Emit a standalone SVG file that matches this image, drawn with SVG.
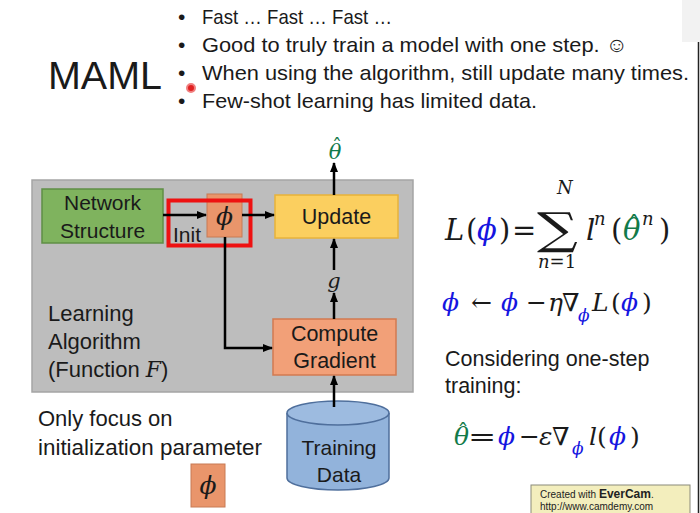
<svg xmlns="http://www.w3.org/2000/svg" width="700" height="513" viewBox="0 0 700 513">
<defs>
<marker id="ah" viewBox="0 0 10 10" refX="9" refY="5" markerWidth="10" markerHeight="10" markerUnits="userSpaceOnUse" orient="auto">
<path d="M0,1 L10,5 L0,9 Z" fill="#000"/>
</marker>
</defs>
<style>
.t{font-family:"Liberation Sans","Open Sans",sans-serif;fill:#1a1a1a}
.m{font-family:"DejaVu Serif","Liberation Serif",serif;font-style:italic;fill:#1a1a1a}
.u{font-style:normal}
.b{fill:#1515e0}
.g{fill:#127a4a}
.ln{stroke:#000;stroke-width:2.5;fill:none}
</style>
<rect width="700" height="513" fill="#ffffff"/>
<line x1="698.5" y1="42" x2="698.5" y2="513" stroke="#222" stroke-width="1.5"/>
<rect x="682" y="0" width="18" height="42" fill="#f2f2f2"/>

<g id="title">
<text class="t" x="48" y="89" font-size="39" textLength="114" lengthAdjust="spacingAndGlyphs">MAML</text>
</g>
<g id="bullets" class="t" font-size="21">
<text x="178" y="24">•</text><text x="202" y="24" textLength="190" lengthAdjust="spacingAndGlyphs">Fast … Fast … Fast …</text>
<text x="178" y="52">•</text><text x="202" y="52" textLength="426" lengthAdjust="spacingAndGlyphs">Good to truly train a model with one step. ☺</text>
<text x="178" y="80">•</text><text x="202" y="80" textLength="487" lengthAdjust="spacingAndGlyphs">When using the algorithm, still update many times.</text>
<text x="178" y="108">•</text><text x="202" y="108" textLength="335" lengthAdjust="spacingAndGlyphs">Few-shot learning has limited data.</text>
</g>
<circle cx="191" cy="88" r="4" fill="#e02020" stroke="#f08080" stroke-width="2"/>

<g id="learning-algorithm">
<rect x="32" y="180" width="381" height="212" fill="#bdbdbd" stroke="#a5a5a5" stroke-width="1.5"/>
<text class="t" font-size="22"><tspan x="48" y="321">Learning</tspan><tspan x="48" y="349">Algorithm</tspan><tspan x="48" y="377">(Function <tspan class="m">F</tspan>)</tspan></text>
</g>

<g id="network-structure">
<rect x="42" y="189" width="121" height="54" fill="#7fb35e" stroke="#5f8f45" stroke-width="1.5"/>
<text class="t" font-size="21" text-anchor="middle"><tspan x="102.5" y="210">Network</tspan><tspan x="102.5" y="238">Structure</tspan></text>
</g>

<g id="phi">
<rect x="207" y="194" width="35" height="43" fill="#e9956b" stroke="#c87a55" stroke-width="1"/>
<text class="m" x="224.5" y="225" font-size="25" text-anchor="middle">ϕ</text>
</g>

<g id="init">
<rect x="168.5" y="200.5" width="82" height="45" fill="none" stroke="#ee1111" stroke-width="4"/>
<text class="t" x="173" y="242" font-size="21">Init</text>
</g>

<g id="update">
<rect x="275" y="195" width="123" height="43" fill="#fbcf5f" stroke="#e8b33a" stroke-width="1.5"/>
<text class="t" x="336.5" y="224" font-size="21.5" text-anchor="middle">Update</text>
</g>

<g id="compute-gradient">
<rect x="273" y="319" width="123" height="56" fill="#f2a078" stroke="#d27a50" stroke-width="1.5"/>
<text class="t" font-size="21.5" text-anchor="middle"><tspan x="334.5" y="341">Compute</tspan><tspan x="334.5" y="368">Gradient</tspan></text>
</g>

<g id="training-data">
<path d="M287,413 L287,478 A51,12 0 0 0 389,478 L389,413" fill="#92b3db" stroke="#4f6f9c" stroke-width="1.5"/>
<ellipse cx="338" cy="413" rx="51" ry="12" fill="#9dbbe0" stroke="#4f6f9c" stroke-width="1.5"/>
<text class="t" font-size="21" text-anchor="middle"><tspan x="339" y="455">Training</tspan><tspan x="339" y="482">Data</tspan></text>
</g>

<g id="theta-hat">
<text class="m g" x="335" y="159" font-size="21" text-anchor="middle">θ</text>
<text class="m g u" x="337" y="154" font-size="20" text-anchor="middle">ˆ</text>
</g>
<g id="g-label">
<text class="m" x="334" y="288" font-size="21" text-anchor="middle">g</text>
</g>

<g id="connectors">
<line class="ln" x1="163" y1="215" x2="206" y2="215" marker-end="url(#ah)"/>
<line class="ln" x1="242" y1="215" x2="274" y2="215" marker-end="url(#ah)"/>
<line class="ln" x1="334" y1="195" x2="334" y2="163" marker-end="url(#ah)"/>
<line class="ln" x1="334" y1="270" x2="334" y2="239" marker-end="url(#ah)"/>
<line class="ln" x1="334" y1="319" x2="334" y2="293" marker-end="url(#ah)"/>
<polyline class="ln" points="225,237 225,348 272,348" marker-end="url(#ah)"/>
<line class="ln" x1="334" y1="407" x2="334" y2="376" marker-end="url(#ah)"/>
</g>

<g id="focus-note">
<text class="t" font-size="22"><tspan x="38" y="426">Only focus on</tspan><tspan x="38" y="455" textLength="224" lengthAdjust="spacingAndGlyphs">initialization parameter</tspan></text>
<rect x="191" y="464" width="34" height="43" fill="#e9956b" stroke="#c87a55" stroke-width="1"/>
<text class="m" x="208" y="494" font-size="25" text-anchor="middle">ϕ</text>
</g>

<g id="eq1" class="m" font-size="29">
<text x="445" y="240">L</text>
<text class="u" x="466" y="240">(</text>
<text class="m b" x="477" y="240">ϕ</text>
<text class="u" x="499" y="240">)</text>
<text class="u" x="512" y="240">=</text>
<text class="u" font-size="44" transform="translate(537,244) scale(1.3,1)">∑</text>
<text x="557" y="194" font-size="18">N</text>
<text x="538" y="268" font-size="18">n<tspan class="u">=1</tspan></text>
<text x="586" y="240">l</text>
<text x="594" y="225" font-size="18">n</text>
<text class="u" x="611" y="240">(</text>
<text class="m g" x="623" y="240">θ</text>
<text class="m g u" x="634" y="235" font-size="26" text-anchor="middle">ˆ</text>
<text x="642" y="225" font-size="18">n</text>
<text class="u" x="659" y="240">)</text>
</g>

<g id="eq2" class="m" font-size="25">
<text class="m b" x="442" y="311">ϕ</text>
<text class="u" x="471" y="311">←</text>
<text class="m b" x="501" y="311">ϕ</text>
<text class="u" x="526" y="311">−</text>
<text x="548" y="311">η</text>
<text class="u" x="562" y="311">∇</text>
<text class="m b" x="578" y="321" font-size="17">ϕ</text>
<text x="592" y="311">L</text>
<text class="u" x="611" y="311">(</text>
<text class="m b" x="621" y="311">ϕ</text>
<text class="u" x="642" y="311">)</text>
</g>

<g id="consider">
<text class="t" font-size="21.5"><tspan x="445" y="366">Considering one-step</tspan><tspan x="445" y="393">training:</tspan></text>
</g>

<g id="eq3" class="m" font-size="25">
<text class="m g" x="454" y="445">θ</text>
<text class="m g u" x="463" y="440" font-size="23" text-anchor="middle">ˆ</text>
<text class="u" font-size="25" transform="translate(468,445) scale(1.35,1)">=</text>
<text class="m b" x="498" y="445">ϕ</text>
<text class="u" x="519" y="445">−</text>
<text x="539" y="445">ε</text>
<text class="u" x="552" y="445">∇</text>
<text class="m b" x="572" y="454" font-size="17">ϕ</text>
<text x="589" y="445">l</text>
<text class="u" x="597" y="445">(</text>
<text class="m b" x="609" y="445">ϕ</text>
<text class="u" x="630" y="445">)</text>
</g>

<g id="evercam">
<rect x="531" y="485" width="159" height="30" fill="#f3eebd" stroke="#8a8a7a" stroke-width="1"/>
<text x="540" y="498" font-family="Liberation Sans,sans-serif" font-size="10" fill="#222">Created with <tspan font-weight="bold" font-size="12">EverCam</tspan>.</text>
<text x="540" y="510" font-family="Liberation Sans,sans-serif" font-size="10" fill="#222">http://www.camdemy.com</text>
</g>
</svg>
